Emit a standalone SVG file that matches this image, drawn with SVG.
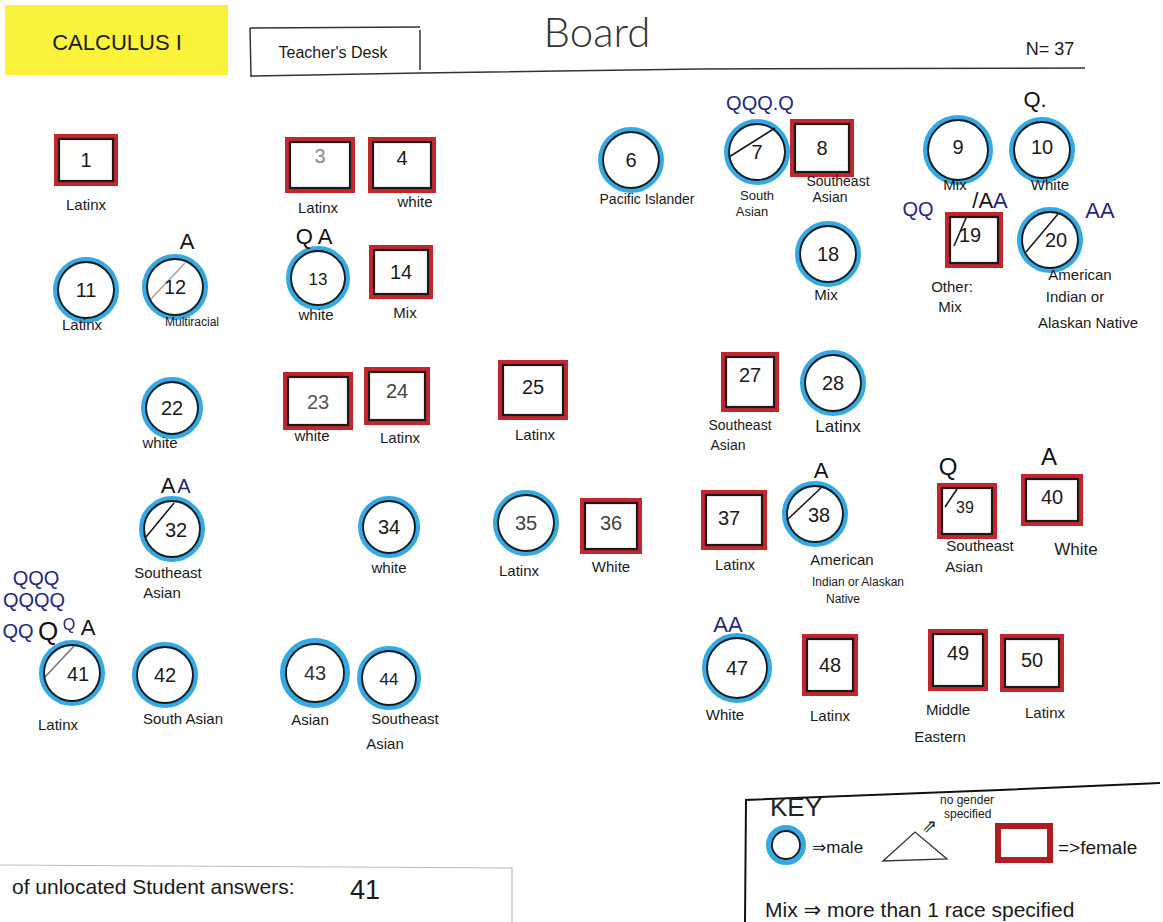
<svg xmlns="http://www.w3.org/2000/svg" width="1163" height="922" viewBox="0 0 1163 922">
<style>
text{font-family:"Liberation Sans","DejaVu Sans",sans-serif;fill:#1a1a1a}
.mb{fill:#fff;stroke:#35a9e3;stroke-width:6}
.mk{fill:none;stroke:#1a1a1a;stroke-width:1.8}
.fr{fill:#fff;stroke:#c4262e;stroke-width:6}
.fk{fill:none;stroke:#1a1a1a;stroke-width:2.2}
.num{font-size:20px}
.lbl{font-size:15px}
.sm{font-size:13px}
.sl{stroke:#1a1a1a;stroke-width:1.6}
.q{fill:#26267c;font-size:20px}
.a{fill:#111;font-size:22px}
.hl{stroke:#333;stroke-width:1.5;fill:none}
</style>

<g id="header" text-anchor="middle">
<rect x="5" y="5" width="223" height="70" fill="#fbf23b"/>
<text x="117" y="50" style="font-size:22px">CALCULUS I</text>
<g id="teacher-desk">
<path class="hl" d="M250 28 L420 27 M250 28 L251 77 M420 30 L420 70"/>
<text x="333" y="58" style="font-size:16px">Teacher's Desk</text>
</g>
<path class="hl" d="M251 76 L420 73 L700 69 L1085 68"/>
<text x="597" y="47" style="font-size:42px;font-family:Lato,'Open Sans',sans-serif;font-weight:300;fill:#333">Board</text>
<text x="1050" y="55" style="font-size:18px">N= 37</text>
</g>

<g id="seats" text-anchor="middle">
<g id="s1" transform="translate(86,160)"><rect class="fr" x="-29" y="-23" width="58" height="46"/><rect class="fk" x="-27" y="-21" width="54" height="42"/><text class="num" y="7">1</text><text class="lbl" y="50">Latinx</text></g>
<g id="s3" transform="translate(320,165)"><rect class="fr" x="-32" y="-25" width="64" height="50"/><rect class="fk" x="-30" y="-23" width="60" height="46"/><text class="num" y="-2" style="fill:#888">3</text><text class="lbl" x="-2" y="48">Latinx</text></g>
<g id="s4" transform="translate(402,165)"><rect class="fr" x="-31" y="-25" width="62" height="50"/><rect class="fk" x="-29" y="-23" width="58" height="46"/><text class="num" y="0">4</text><text class="lbl" x="13" y="42">white</text></g>
<g id="s6" transform="translate(631,160)"><circle class="mb" r="30"/><circle class="mk" r="28"/><text class="num" y="7">6</text><text class="lbl" x="16" y="44" style="font-size:14px">Pacific Islander</text></g>
<g id="s7" transform="translate(757,152)"><circle class="mb" r="30"/><circle class="mk" r="28"/><line class="sl" x1="-28" y1="5" x2="18" y2="-24"/><text class="num" y="7">7</text><text class="q" x="3" y="-42">QQQ.Q</text><text class="sm" y="48">South</text><text class="sm" x="-5" y="64">Asian</text></g>
<g id="s8" transform="translate(822,148)"><rect class="fr" x="-29" y="-26" width="58" height="52"/><rect class="fk" x="-27" y="-24" width="54" height="48"/><text class="num" y="7">8</text><text class="sm" x="16" y="38" style="font-size:14px">Southeast</text><text class="sm" x="8" y="54" style="font-size:14px">Asian</text></g>
<g id="s9" transform="translate(958,150)"><circle class="mb" r="32"/><circle class="mk" r="30"/><text class="num" y="4">9</text><text class="lbl" x="-3" y="40">Mix</text></g>
<g id="s10" transform="translate(1042,150)"><circle class="mb" r="30"/><circle class="mk" r="28"/><text class="num" y="4">10</text><text class="a" x="-7" y="-43">Q.</text><text class="lbl" x="8" y="40">White</text></g>

<g id="s11" transform="translate(86,290)"><circle class="mb" r="30"/><circle class="mk" r="28"/><text class="num" y="7">11</text><text class="lbl" x="-4" y="40">Latinx</text></g>
<g id="s12" transform="translate(175,287)"><circle class="mb" r="30"/><circle class="mk" r="28"/><line class="sl" x1="-24" y1="12" x2="10" y2="-24" stroke-opacity="0.4"/><text class="num" y="7">12</text><text class="a" x="12" y="-38">A</text><text class="sm" x="17" y="39" style="font-size:12px">Multiracial</text></g>
<g id="s13" transform="translate(318,278)"><circle class="mb" r="29"/><circle class="mk" r="27"/><text class="num" y="7" style="font-size:17px">13</text><text class="a" x="-4" y="-34">Q A</text><text class="lbl" x="-2" y="42">white</text></g>
<g id="s14" transform="translate(401,272)"><rect class="fr" x="-29" y="-24" width="58" height="48"/><rect class="fk" x="-27" y="-22" width="54" height="44"/><text class="num" y="7">14</text><text class="lbl" x="4" y="46">Mix</text></g>
<g id="s18" transform="translate(828,254)"><circle class="mb" r="30"/><circle class="mk" r="28"/><text class="num" y="7">18</text><text class="lbl" x="-2" y="46">Mix</text></g>
<g id="s19" transform="translate(974,240)"><rect class="fr" x="-26" y="-25" width="52" height="50"/><rect class="fk" x="-24" y="-23" width="48" height="46"/><line class="sl" x1="-20" y1="6" x2="-8" y2="-22"/><text class="num" x="-4" y="2">19</text><text class="q" x="-56" y="-24">QQ</text><text class="a" x="16" y="-32"><tspan style="fill:#111">/A</tspan><tspan style="fill:#26267c">A</tspan></text><text class="lbl" x="-22" y="52">Other:</text><text class="lbl" x="-24" y="72">Mix</text></g>
<g id="s20" transform="translate(1050,240)"><circle class="mb" r="30"/><circle class="mk" r="28"/><line class="sl" x1="-24" y1="12" x2="8" y2="-26"/><text class="num" x="6" y="7">20</text><text class="q" x="50" y="-22" style="font-size:22px">AA</text><text class="lbl" x="30" y="40">American</text><text class="lbl" x="25" y="62">Indian or</text><text class="lbl" x="38" y="88">Alaskan Native</text></g>

<g id="s22" transform="translate(172,408)"><circle class="mb" r="28"/><circle class="mk" r="26"/><text class="num" y="7">22</text><text class="lbl" x="-12" y="40">white</text></g>
<g id="s23" transform="translate(318,401)"><rect class="fr" x="-32" y="-26" width="64" height="52"/><rect class="fk" x="-30" y="-24" width="60" height="48"/><text class="num" y="8" style="fill:#555">23</text><text class="lbl" x="-6" y="40">white</text></g>
<g id="s24" transform="translate(397,396)"><rect class="fr" x="-30" y="-26" width="60" height="52"/><rect class="fk" x="-28" y="-24" width="56" height="48"/><text class="num" y="2" style="fill:#444">24</text><text class="lbl" x="3" y="47">Latinx</text></g>
<g id="s25" transform="translate(533,390)"><rect class="fr" x="-32" y="-27" width="64" height="54"/><rect class="fk" x="-30" y="-25" width="60" height="50"/><text class="num" y="4">25</text><text class="lbl" x="2" y="50">Latinx</text></g>
<g id="s27" transform="translate(750,382)"><rect class="fr" x="-26" y="-27" width="52" height="54"/><rect class="fk" x="-24" y="-25" width="48" height="50"/><text class="num" y="0">27</text><text class="sm" x="-10" y="48" style="font-size:14px">Southeast</text><text class="sm" x="-22" y="68" style="font-size:14px">Asian</text></g>
<g id="s28" transform="translate(833,383)"><circle class="mb" r="30"/><circle class="mk" r="28"/><text class="num" y="7">28</text><text class="lbl" x="5" y="49" style="font-size:17px">Latinx</text></g>

<g id="s32" transform="translate(172,529)"><circle class="mb" r="30"/><circle class="mk" r="28"/><line class="sl" x1="-26" y1="8" x2="2" y2="-26"/><text class="num" x="4" y="8">32</text><text class="a" x="-4" y="-36">A</text><text class="q" x="12" y="-36">A</text><text class="lbl" x="-4" y="49">Southeast</text><text class="lbl" x="-10" y="69">Asian</text></g>
<g id="s34" transform="translate(389,527)"><circle class="mb" r="28"/><circle class="mk" r="26"/><text class="num" y="7">34</text><text class="lbl" y="46">white</text></g>
<g id="s35" transform="translate(526,523)"><circle class="mb" r="30"/><circle class="mk" r="28"/><text class="num" y="7" style="fill:#444">35</text><text class="lbl" x="-7" y="53">Latinx</text></g>
<g id="s36" transform="translate(611,526)"><rect class="fr" x="-28" y="-25" width="56" height="50"/><rect class="fk" x="-26" y="-23" width="52" height="46"/><text class="num" y="4" style="fill:#444">36</text><text class="lbl" y="46">White</text></g>
<g id="s37" transform="translate(734,520)"><rect class="fr" x="-30" y="-27" width="60" height="54"/><rect class="fk" x="-28" y="-25" width="56" height="50"/><text class="num" x="-5" y="5">37</text><text class="lbl" x="1" y="50">Latinx</text></g>
<g id="s38" transform="translate(815,514)"><circle class="mb" r="30"/><circle class="mk" r="28"/><line class="sl" x1="-28" y1="6" x2="8" y2="-28"/><text class="num" x="4" y="8">38</text><text class="a" x="6" y="-36">A</text><text class="lbl" x="27" y="51">American</text><text class="sm" x="43" y="72" style="font-size:12px">Indian or Alaskan</text><text class="sm" x="28" y="89" style="font-size:12px">Native</text></g>
<g id="s39" transform="translate(967,511)"><rect class="fr" x="-27" y="-25" width="54" height="50"/><rect class="fk" x="-25" y="-23" width="50" height="46"/><line class="sl" x1="-22" y1="-4" x2="-10" y2="-22"/><text class="num" x="-2" y="2" style="font-size:16px">39</text><text class="a" x="-19" y="-36" style="font-size:24px">Q</text><text class="lbl" x="13" y="40">Southeast</text><text class="lbl" x="-3" y="61">Asian</text></g>
<g id="s40" transform="translate(1052,500)"><rect class="fr" x="-28" y="-23" width="56" height="46"/><rect class="fk" x="-26" y="-21" width="52" height="42"/><text class="num" y="4">40</text><text class="a" x="-3" y="-35" style="font-size:24px">A</text><text class="lbl" x="24" y="55" style="font-size:17px">White</text></g>

<g id="s41" transform="translate(72,673)"><circle class="mb" r="30"/><circle class="mk" r="28"/><line class="sl" x1="-27" y1="4" x2="2" y2="-27" stroke-opacity="0.6"/><text class="num" x="6" y="8">41</text><text class="lbl" x="-14" y="57">Latinx</text></g>
<g id="s41ann"><text class="q" x="36" y="585">QQQ</text><text class="q" x="34" y="607">QQQQ</text><text class="q" x="18" y="638">QQ</text><text class="a" x="48" y="640" style="font-size:26px">Q</text><text class="q" x="69" y="630" style="font-size:16px">Q</text><text class="a" x="88" y="635">A</text></g>
<g id="s42" transform="translate(165,675)"><circle class="mb" r="30"/><circle class="mk" r="28"/><text class="num" y="7">42</text><text class="lbl" x="18" y="49">South Asian</text></g>
<g id="s43" transform="translate(315,673)"><circle class="mb" r="32"/><circle class="mk" r="29"/><text class="num" y="7" style="fill:#333">43</text><text class="lbl" x="-5" y="52">Asian</text></g>
<g id="s44" transform="translate(389,678)"><circle class="mb" r="29"/><circle class="mk" r="27"/><text class="num" y="7" style="font-size:17px">44</text><text class="lbl" x="16" y="46">Southeast</text><text class="lbl" x="-4" y="71">Asian</text></g>
<g id="s47" transform="translate(737,668)"><circle class="mb" r="32"/><circle class="mk" r="30"/><text class="num" y="7">47</text><text class="q" x="-9" y="-36" style="font-size:22px">AA</text><text class="lbl" x="-12" y="52">White</text></g>
<g id="s48" transform="translate(830,665)"><rect class="fr" x="-25" y="-28" width="50" height="56"/><rect class="fk" x="-23" y="-26" width="46" height="52"/><text class="num" y="7">48</text><text class="lbl" y="56">Latinx</text></g>
<g id="s49" transform="translate(958,660)"><rect class="fr" x="-27" y="-28" width="54" height="56"/><rect class="fk" x="-25" y="-26" width="50" height="52"/><text class="num" y="0">49</text><text class="lbl" x="-10" y="55">Middle</text><text class="lbl" x="-18" y="82">Eastern</text></g>
<g id="s50" transform="translate(1032,663)"><rect class="fr" x="-29" y="-26" width="58" height="52"/><rect class="fk" x="-27" y="-24" width="54" height="48"/><text class="num" y="4">50</text><text class="lbl" x="13" y="55">Latinx</text></g>
</g>

<g id="key">
<path class="hl" d="M745 922 L746 800 L1000 790 L1160 783" style="stroke:#111;stroke-width:2"/>
<text x="770" y="816" style="font-size:26px;fill:#222">KEY</text>
<circle class="mb" cx="786" cy="845" r="17"/><circle class="mk" cx="786" cy="845" r="14"/>
<text x="812" y="853" style="font-size:17px">⇒male</text>
<polygon points="883,861 915,832 947,859" fill="none" stroke="#333" stroke-width="1.3"/>
<text x="922" y="832" style="font-size:18px">⇗</text>
<text x="940" y="804" style="font-size:12px">no gender</text>
<text x="944" y="818" style="font-size:12px">specified</text>
<rect class="fr" x="998" y="826" width="52" height="34" style="stroke:#b01c24"/>
<text x="1058" y="854" style="font-size:19px">=&gt;female</text>
<text x="765" y="917" style="font-size:21px">Mix ⇒ more than 1 race specified</text>
</g>

<g id="footer">
<path d="M0 865 L512 868 L512 922" fill="none" stroke="#bbb" stroke-width="1.2"/>
<text x="12" y="894" style="font-size:21px">of unlocated Student answers:</text>
<text x="350" y="899" style="font-size:27px">41</text>
</g>
</svg>
